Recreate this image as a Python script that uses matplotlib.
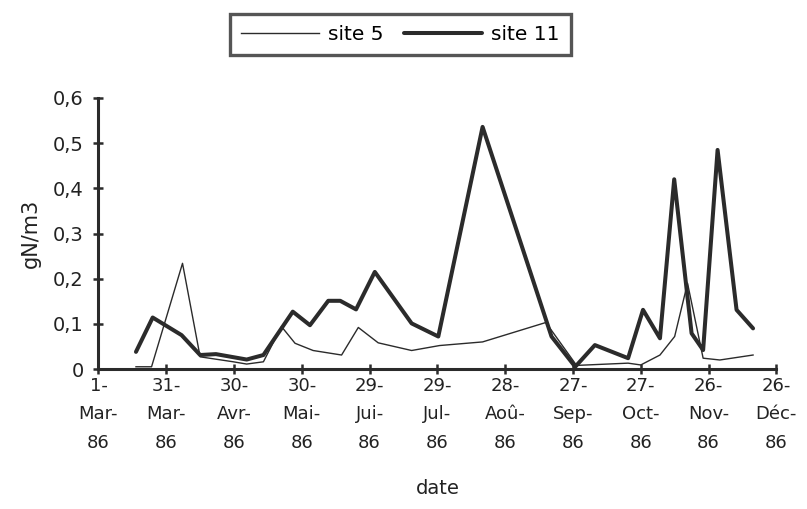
import matplotlib
matplotlib.use("Agg")
import matplotlib.pyplot as plt

# days since 1-Mar-86
site5_days = [16.6, 23.5, 37.2, 45, 59.7, 65.6, 73, 81, 87, 95, 107.6, 115, 123.8,
              138.6, 151, 170, 198, 211.6, 234.4, 240, 248.5, 255, 260.7, 267.6,
              275, 289.7]
site5_vals = [0.005, 0.005, 0.234, 0.027, 0.016, 0.011, 0.016, 0.094, 0.057, 0.041,
              0.031, 0.092, 0.058, 0.041, 0.052, 0.060, 0.103, 0.008, 0.013, 0.009,
              0.031, 0.072, 0.190, 0.024, 0.020, 0.031]

site11_days = [16.6, 24, 36.8, 45, 52, 65.6, 73, 86, 93.6, 101.7, 107, 114, 122.3,
               138.6, 150.4, 170, 200.5, 211, 219.7, 234.4, 241, 248.5, 254.8,
               262.5, 267.6, 274, 282.4, 289.7]
site11_vals = [0.038, 0.114, 0.075, 0.031, 0.033, 0.021, 0.031, 0.127, 0.097, 0.151,
               0.151, 0.132, 0.215, 0.101, 0.072, 0.536, 0.072, 0.005, 0.053, 0.024,
               0.131, 0.068, 0.420, 0.079, 0.042, 0.485, 0.131, 0.090]

tick_days = [0, 30, 60, 90, 120, 150, 180, 210, 240, 270, 300]
tick_labels = ["1-\nMar-\n86", "31-\nMar-\n86", "30-\nAvr-\n86", "30-\nMai-\n86",
               "29-\nJui-\n86", "29-\nJul-\n86", "28-\nAoû-\n86", "27-\nSep-\n86",
               "27-\nOct-\n86", "26-\nNov-\n86", "26-\nDéc-\n86"]
y_ticks = [0, 0.1, 0.2, 0.3, 0.4, 0.5, 0.6]
y_labels = ["0", "0,1", "0,2", "0,3", "0,4", "0,5", "0,6"]

plt.rcParams['font.family'] = ['DejaVu Sans']
col = "#2b2b2b"
tcol = "#222222"

fig = plt.figure(figsize=(8.07, 5.09), dpi=100)
ax = fig.add_axes([0.122, 0.275, 0.84, 0.5325])

ax.plot(site5_days, site5_vals, color=col, lw=1.0, label="site 5", clip_on=False,
        solid_joinstyle="round")
ax.plot(site11_days, site11_vals, color=col, lw=2.9, label="site 11",
        solid_joinstyle="round", solid_capstyle="round", clip_on=False)

ax.set_xlim(0, 300)
ax.set_ylim(0, 0.6)
ax.set_xticks(tick_days)
ax.set_xticklabels(tick_labels, fontsize=13, linespacing=1.75)
ax.set_yticks(y_ticks)
ax.set_yticklabels(y_labels, fontsize=14)

for s in ["top", "right"]:
    ax.spines[s].set_visible(False)
for s in ["left", "bottom"]:
    ax.spines[s].set_linewidth(2.2)
    ax.spines[s].set_color(col)

ax.tick_params(axis="both", direction="inout", length=7, width=1.8, color=col,
               labelcolor=tcol)
ax.tick_params(axis="x", pad=2)
ax.tick_params(axis="y", pad=7)

ax.set_xlabel("date", fontsize=14, labelpad=20, color=tcol)
ax.set_ylabel("gN/m3", fontsize=15, labelpad=9, color=tcol)

leg = fig.legend(loc="upper center", bbox_to_anchor=(0.496, 0.972), ncol=2,
                 frameon=True, fancybox=False, fontsize=14.5, handlelength=3.9,
                 columnspacing=1.0, borderpad=0.55, handletextpad=0.45,
                 borderaxespad=0.0)
leg.get_frame().set_edgecolor(col)
leg.get_frame().set_linewidth(2.4)

fig.savefig("out.png", dpi=100, facecolor="white")
